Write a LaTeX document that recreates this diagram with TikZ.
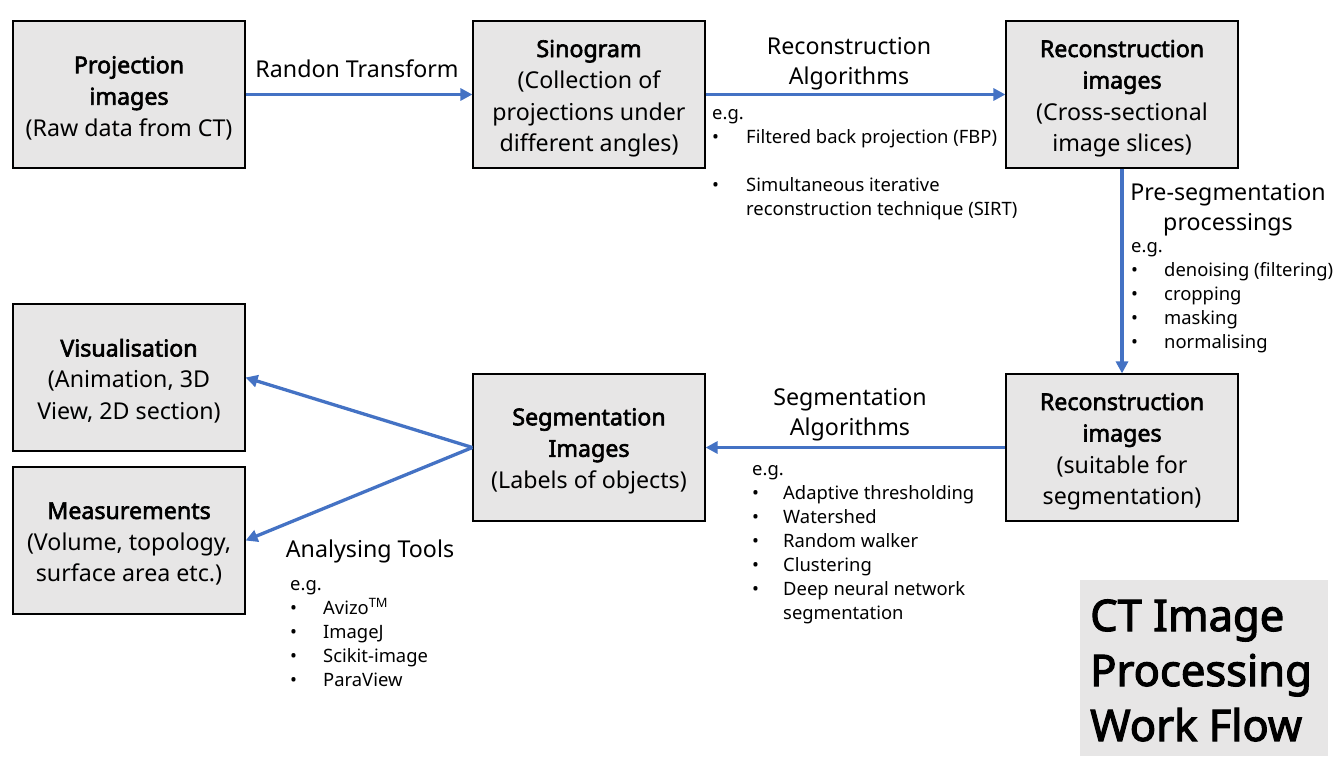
\documentclass[tikz,border=0pt]{standalone}
\usepackage{fontspec}
\setmainfont{Noto Sans}[BoldFont={Noto Sans}, BoldFeatures={FakeBold=2.6}]
\usetikzlibrary{arrows.meta}
\definecolor{boxgray}{HTML}{E7E6E6}
\definecolor{arrowblue}{HTML}{4472C4}
\begin{document}
\begin{tikzpicture}[x=1pt,y=-1pt,
  box/.style={draw=black, line width=1.2pt, fill=boxgray, minimum width=232pt, minimum height=147pt, inner sep=0pt},
  boxtext/.style={align=center, inner sep=0pt, font=\fontsize{23.2}{31.5}\selectfont},
  flow/.style={draw=arrowblue, line width=3.3pt, -{Triangle[length=12pt,width=12pt]}},
  lab/.style={font=\fontsize{23.2}{30}\selectfont, anchor=base, inner sep=0pt},
  small/.style={font=\fontsize{18.4}{24}\selectfont, anchor=base west, inner sep=0pt},
  ttl/.style={font=\fontsize{43.5}{55}\selectfont\bfseries, anchor=base west, inner sep=0pt},
]
\useasboundingbox (0,0) rectangle (1337,763);
\fill[white] (0,0) rectangle (1337,763);

% boxes
\node[box] (proj) at (129,94.5) {};
\node[box] (sino) at (589,94.5) {};
\node[box] (rec1) at (1122,94.5) {};
\node[box] (rec2) at (1122,447.5) {};
\node[box] (seg) at (589,447.5) {};
\node[box] (vis) at (129,377.5) {};
\node[box] (meas) at (129,540.5) {};

\node[boxtext] (projt) at ([yshift=-3.5pt]proj.center) {\textbf{Projection}\\\textbf{images}\\(Raw data from CT)};
\node[boxtext] (sinot) at ([yshift=-4pt]sino.center) {\textbf{Sinogram}\\(Collection of\\projections under\\different angles)};
\node[boxtext] (rec1t) at ([yshift=-4pt]rec1.center) {\textbf{Reconstruction}\\\textbf{images}\\(Cross-sectional\\image slices)};
\node[boxtext] (rec2t) at ([yshift=-4pt]rec2.center) {\textbf{Reconstruction}\\\textbf{images}\\(suitable for\\segmentation)};
\node[boxtext] (segt) at ([yshift=-3.5pt]seg.center) {\textbf{Segmentation}\\\textbf{Images}\\(Labels of objects)};
\node[boxtext] (vist) at ([yshift=-3.5pt]vis.center) {\textbf{Visualisation}\\(Animation, 3D\\View, 2D section)};
\node[boxtext] (meast) at ([yshift=-3.5pt]meas.center) {\textbf{Measurements}\\(Volume, topology,\\surface area etc.)};

% title
\node[fill=boxgray, minimum width=248pt, minimum height=176pt, inner sep=0pt] (titlebox) at (1204,668) {};
\node[ttl] (t1) at (1090,631) {CT Image};
\node[ttl] (t2) at (1090,686) {Processing};
\node[ttl] (t3) at (1090,741) {Work Flow};

% arrows
\draw[flow] (proj.east) -- (sino.west);
\draw[flow] (sino.east) -- (rec1.west);
\draw[flow] (rec1.south) -- (rec2.north);
\draw[flow] (rec2.west) -- (seg.east);
\draw[flow] (seg.west) -- (vis.east);
\draw[flow] (seg.west) -- (meas.east);

% labels
\node[lab] (l1) at (357,77) {Randon Transform};
\node[lab] (l2a) at (849,54) {Reconstruction};
\node[lab] (l2b) at (849,84) {Algorithms};
\node[lab] (l3a) at (1228,200) {Pre-segmentation};
\node[lab] (l3b) at (1228,230) {processings};
\node[lab] (l4a) at (850,405) {Segmentation};
\node[lab] (l4b) at (850,435) {Algorithms};
\node[lab] (l5) at (370,557) {Analysing Tools};

% list 1
\node[small] (e1) at (712,119) {e.g.};
\node[small] (b1a) at (712,143) {•};
\node[small] (i1a) at (746,143) {Filtered back projection (FBP)};
\node[small] (b1b) at (712,191) {•};
\node[small] (i1b) at (746,191) {Simultaneous iterative};
\node[small] (i1c) at (746,215) {reconstruction technique (SIRT)};

% list 2
\node[small] (e2) at (1131,252) {e.g.};
\node[small] (b2a) at (1131,276) {•};
\node[small] (i2a) at (1164,276) {denoising (filtering)};
\node[small] (b2b) at (1131,300) {•};
\node[small] (i2b) at (1164,300) {cropping};
\node[small] (b2c) at (1131,324) {•};
\node[small] (i2c) at (1164,324) {masking};
\node[small] (b2d) at (1131,348) {•};
\node[small] (i2d) at (1164,348) {normalising};

% list 3
\node[small] (e3) at (752,475) {e.g.};
\node[small] (b3a) at (752,499) {•};
\node[small] (i3a) at (783,499) {Adaptive thresholding};
\node[small] (b3b) at (752,523) {•};
\node[small] (i3b) at (783,523) {Watershed};
\node[small] (b3c) at (752,547) {•};
\node[small] (i3c) at (783,547) {Random walker};
\node[small] (b3d) at (752,571) {•};
\node[small] (i3d) at (783,571) {Clustering};
\node[small] (b3e) at (752,595) {•};
\node[small] (i3e) at (783,595) {Deep neural network};
\node[small] (i3f) at (783,619) {segmentation};

% list 4
\node[small] (e4) at (290,590) {e.g.};
\node[small] (b4a) at (290,614) {•};
\node[small] (i4a) at (323,614) {Avizo\textsuperscript{TM}};
\node[small] (b4b) at (290,638) {•};
\node[small] (i4b) at (323,638) {ImageJ};
\node[small] (b4c) at (290,662) {•};
\node[small] (i4c) at (323,662) {Scikit-image};
\node[small] (b4d) at (290,686) {•};
\node[small] (i4d) at (323,686) {ParaView};
\end{tikzpicture}
\end{document}
